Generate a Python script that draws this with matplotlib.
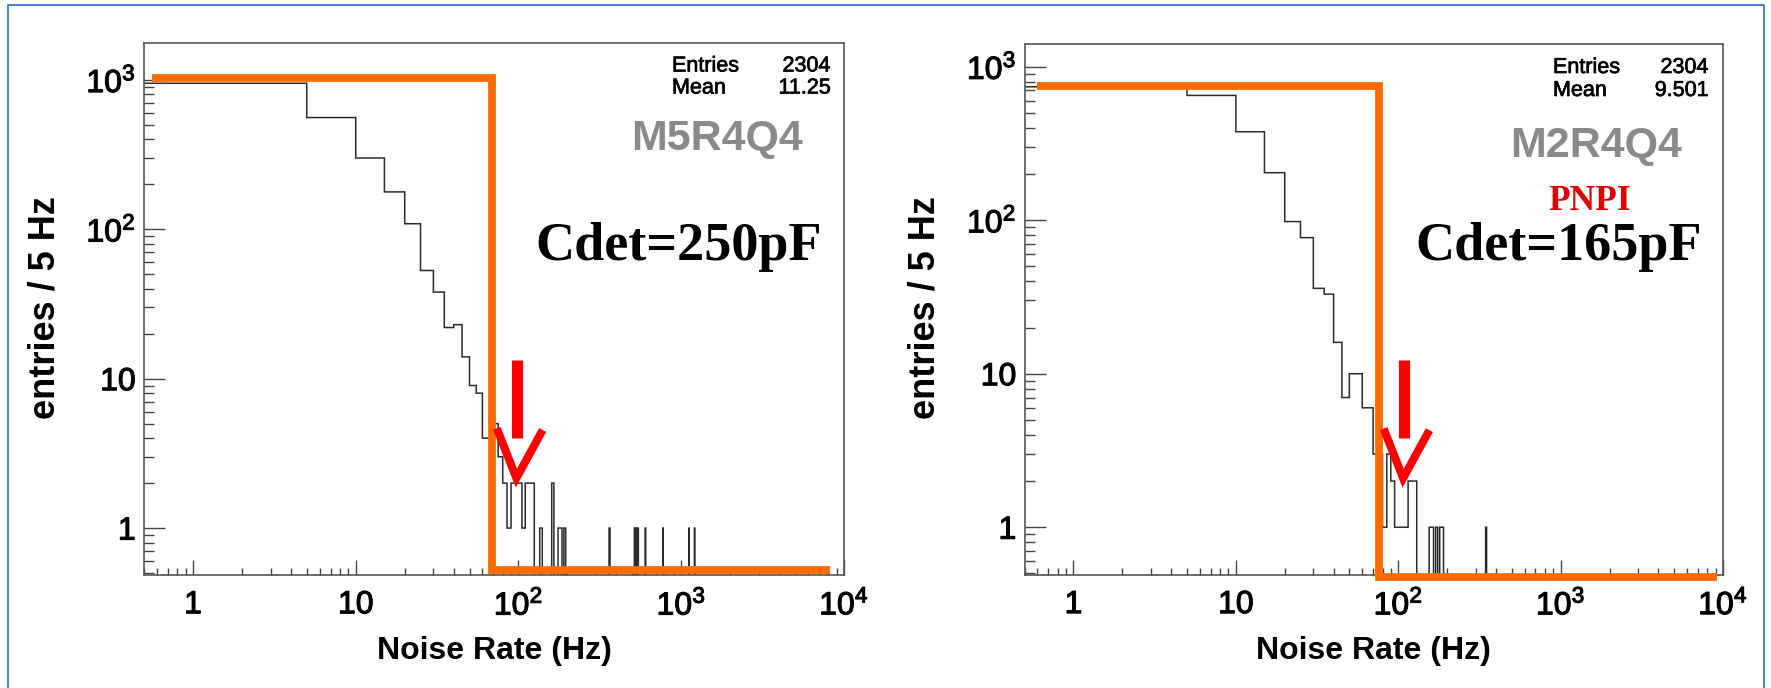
import numpy as np
import matplotlib
matplotlib.use('Agg')
import matplotlib.pyplot as plt
import matplotlib.patheffects as pe
from matplotlib.lines import Line2D
from matplotlib.ticker import FixedLocator, FixedFormatter, LogLocator, NullFormatter

plt.rcParams['font.family'] = ['Liberation Sans', 'DejaVu Sans']
plt.rcParams['mathtext.fontset'] = 'custom'
plt.rcParams['mathtext.rm'] = 'Liberation Sans'
plt.rcParams['mathtext.it'] = 'Liberation Sans:italic'
plt.rcParams['mathtext.bf'] = 'Liberation Sans:bold'

# histogram with 5 Hz bins: lower edge of every non-empty bin and its content
bin_width = 5
hist_max = 10000

m5_low = [0, 5, 10, 15, 20, 25, 30, 35, 40, 45, 50, 55, 60, 65, 70, 75, 80, 85,
          90, 95, 100, 105, 110, 115, 120, 135, 160, 175, 180, 190, 360, 515,
          525, 540, 600, 770, 1115, 1205]
m5_cnt = [950, 560, 300, 178, 109, 53, 38, 22, 23, 14, 9, 8, 4, 4, 5, 3, 2, 1,
          2, 2, 2, 1, 2, 2, 2, 1, 2, 1, 1, 1, 1, 1,
          1, 1, 1, 1, 1, 1]

m2_low = [0, 5, 10, 15, 20, 25, 30, 35, 40, 45, 50, 55, 60, 65, 70, 75, 80, 85,
          90, 95, 100, 105, 110, 115, 120, 125, 155, 160, 170, 180, 185, 345]
m2_cnt = [740, 650, 377, 204, 98, 77, 36, 33, 16, 7, 10, 10, 6, 6, 3, 3, 1, 3,
          2, 1, 1, 1, 1, 2, 2, 2, 1, 1, 1, 1, 1, 1]

names = ['M5R4Q4', 'M2R4Q4']
entries = ['2304', '2304']
means = ['11.25', '9.501']
cdet = ['Cdet=250pF', 'Cdet=165pF']

# orange cut line drawn over each histogram
cut_start = [0.56, 0.6]
cut_level = [1027, 745]
cut_edge = [68.4, 76]
cut_floor = [0.526, 0.475]
cut_end = [8200, 9200]

x_ticks = [1, 10, 100, 1000, 10000]
x_labels = ['1', '10', '$10^{2}$', '$10^{3}$', '$10^{4}$']
y_ticks = [1, 10, 100, 1000]
y_labels = ['1', '10', '$10^{2}$', '$10^{3}$']
x_range = (0.5, 1e4)
y_ranges = [(0.485, 1778), (0.49, 1408)]

W, H = 1771, 688
fig = plt.figure(figsize=(W / 100, H / 100), dpi=100)
fig.patch.set_facecolor('white')


def fp(x, y):
    return x / W, 1 - y / H


heavy = [pe.withStroke(linewidth=0.8, foreground='black')]
heavy_small = [pe.withStroke(linewidth=0.5, foreground='black')]

# axes boxes in pixels: left, top, right, bottom
boxes = [(144, 42.6, 844, 575), (1024.6, 43.9, 1723, 574.8)]
text_x = [dict(ent=672, num=830.5, name=717, cdet=678.5, rows=(71.5, 93.5), name_y=150),
          dict(ent=1553, num=1708.5, name=1596, cdet=1558.5, rows=(73, 96), name_y=157)]

edges = np.arange(0, hist_max + bin_width, bin_width)
hists = [(m5_low, m5_cnt), (m2_low, m2_cnt)]

for i in range(2):
    l, t, r, b = boxes[i]
    ax = fig.add_axes([l / W, 1 - b / H, (r - l) / W, (b - t) / H])

    counts = np.zeros(len(edges) - 1)
    low, cnt = hists[i]
    counts[np.array(low) // bin_width] = cnt

    ax.set_xscale('log')
    ax.set_yscale('log')
    ax.stairs(counts, edges, baseline=None, color='#2b2b2b', lw=1.1, zorder=2)

    ax.plot([cut_start[i], cut_edge[i], cut_edge[i], cut_end[i]],
            [cut_level[i], cut_level[i], cut_floor[i], cut_floor[i]],
            color='#ff6a00', lw=5.6, solid_joinstyle='miter', solid_capstyle='butt',
            clip_on=False, zorder=4)

    ax.set_xlim(*x_range)
    ax.set_ylim(*y_ranges[i])

    ax.xaxis.set_major_locator(FixedLocator(x_ticks))
    ax.xaxis.set_major_formatter(FixedFormatter(x_labels))
    ax.xaxis.set_minor_locator(LogLocator(base=10, subs=np.arange(2, 10), numticks=30))
    ax.xaxis.set_minor_formatter(NullFormatter())
    ax.yaxis.set_major_locator(FixedLocator(y_ticks))
    ax.yaxis.set_major_formatter(FixedFormatter(y_labels))
    ax.yaxis.set_minor_locator(LogLocator(base=10, subs=np.arange(2, 10), numticks=30))
    ax.yaxis.set_minor_formatter(NullFormatter())

    ax.tick_params(axis='x', which='major', direction='in', length=10.8, width=1.0,
                   color='#444444', labelsize=23, pad=11, top=False)
    ax.tick_params(axis='x', which='minor', direction='in', length=5, width=1.0,
                   color='#444444', top=False)
    ax.tick_params(axis='y', which='major', direction='in', length=15, width=1.0,
                   color='#444444', labelsize=23, pad=6, right=False)
    ax.tick_params(axis='y', which='minor', direction='in', length=7.2, width=1.0,
                   color='#444444', right=False)
    for lab in ax.get_xticklabels() + ax.get_yticklabels():
        lab.set_path_effects(heavy)
    for s in ax.spines.values():
        s.set_color('#555555')
        s.set_linewidth(1.2)

    ax.set_xlabel('Noise Rate (Hz)', fontsize=23, fontweight='bold')
    ax.xaxis.set_label_coords(0.5, -0.115)
    ax.set_ylabel('entries / 5 Hz', fontsize=26, fontweight='bold')
    ax.yaxis.set_label_coords(-0.117, 0.503)

    # stats box and labels
    tx = text_x[i]
    for txt, xk, ha, row in [('Entries', 'ent', 'left', 0), (entries[i], 'num', 'right', 0),
                             ('Mean', 'ent', 'left', 1), (means[i], 'num', 'right', 1)]:
        fig.text(*fp(tx[xk], tx['rows'][row]), txt, fontsize=15.5, ha=ha, va='baseline',
                 path_effects=heavy_small)
    fig.text(*fp(tx['name'], tx['name_y']), names[i], fontsize=31, fontweight='bold',
             color='#8a8a8a', ha='center', va='baseline')
    fig.text(*fp(tx['cdet'], 260), cdet[i], fontsize=39, fontweight='bold',
             family='Liberation Serif', ha='center', va='baseline')

    # red arrow pointing at ~100 Hz
    ax.plot([0.533 + 0.01 * i, 0.533 + 0.01 * i], [0.404, 0.258], transform=ax.transAxes,
            color='#ff0000', lw=8, solid_capstyle='butt', zorder=5)
    ax.plot([0.504 + 0.01 * i, 0.532 + 0.01 * i, 0.5696 + 0.01 * i], [0.2755, 0.182, 0.2724],
            transform=ax.transAxes, color='#ff0000', lw=5.8,
            solid_joinstyle='miter', solid_capstyle='butt', zorder=5)

fig.text(*fp(1590, 209.5), 'PNPI', fontsize=25.5, fontweight='bold',
         family='Liberation Serif', color='#e00000', ha='center', va='baseline')

# thin blue slide frame
fig.add_artist(Line2D([8 / W, 8 / W, 1764 / W, 1764 / W], [0, 1 - 4.5 / H, 1 - 4.5 / H, 0],
                      transform=fig.transFigure, color='#1f6fbf', lw=1.2))

fig.savefig('out.png', dpi=100)
